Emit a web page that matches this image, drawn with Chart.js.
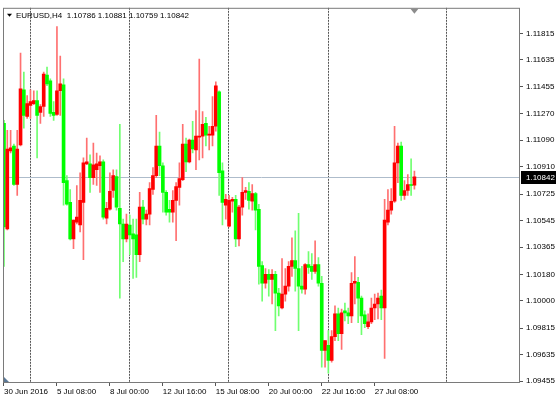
<!DOCTYPE html>
<html>
<head>
<meta charset="utf-8">
<script src="https://cdn.jsdelivr.net/npm/chart.js@4.4.0/dist/chart.umd.min.js"></script>
<style>
  html, body { margin: 0; padding: 0; background: #fff; }
</style>
</head>
<body>
<canvas id="chart" width="558" height="400"></canvas>
<script>
// EURUSD H4 candles, 30 Jun 2016 16:00 .. 29 Jul 2016 08:00 (bar index = position)
const symbol = 'EURUSD,H4';

const opens = [
  1.11205, 1.10488, 1.11018, 1.11051, 1.10790, 1.11058, 1.11433, 1.11252, 1.11326, 1.11339,
  1.11359, 1.11279, 1.11319, 1.11533, 1.11493, 1.11279, 1.11265, 1.11426, 1.11466, 1.10816,
  1.10669, 1.10421, 1.10535, 1.10515, 1.10669, 1.10930, 1.10930, 1.10837, 1.10890, 1.10917,
  1.10944, 1.10562, 1.10622, 1.10749, 1.10843, 1.10629, 1.10522, 1.10421, 1.10515, 1.10455,
  1.10448, 1.10314, 1.10636, 1.10555, 1.10589, 1.10756, 1.10850, 1.11051, 1.10917, 1.10736,
  1.10622, 1.10602, 1.10682, 1.10770, 1.10823, 1.11064, 1.10944, 1.11091, 1.11024, 1.11111,
  1.11118, 1.11205, 1.11125, 1.11125, 1.11185, 1.11419, 1.10883, 1.10649, 1.10508, 1.10676,
  1.10689, 1.10421, 1.10636, 1.10736, 1.10743, 1.10676, 1.10729, 1.10622, 1.10240, 1.10120,
  1.10180, 1.10146, 1.10180, 1.10053, 1.09952, 1.10046, 1.10100, 1.10234, 1.10274, 1.10220,
  1.10100, 1.10079, 1.10247, 1.10234, 1.10200, 1.10247, 1.10120, 1.09664, 1.09698, 1.09597,
  1.09758, 1.09912, 1.09778, 1.09932, 1.09919, 1.09899, 1.10120, 1.10126, 1.10019, 1.09905,
  1.09825, 1.09858, 1.09952, 1.09979, 1.10033, 1.09952, 1.10535, 1.10616, 1.10676, 1.10937,
  1.11051, 1.10716, 1.10749, 1.10790, 1.10786
];
const highs = [
  1.11225, 1.11158, 1.11158, 1.11064, 1.11158, 1.11681, 1.11553, 1.11393, 1.11433, 1.11426,
  1.11426, 1.11332, 1.11553, 1.11587, 1.11507, 1.11352, 1.11862, 1.11661, 1.11507, 1.10850,
  1.10756, 1.10548, 1.10783, 1.10870, 1.10971, 1.11105, 1.10991, 1.11071, 1.11004, 1.10984,
  1.10957, 1.10669, 1.10870, 1.10890, 1.10890, 1.11198, 1.10555, 1.10589, 1.10582, 1.10555,
  1.10555, 1.10736, 1.10682, 1.10616, 1.10803, 1.10904, 1.11259, 1.11145, 1.10937, 1.10749,
  1.10682, 1.10749, 1.10803, 1.10937, 1.11198, 1.11105, 1.11098, 1.11218, 1.11292, 1.11641,
  1.11285, 1.11245, 1.11185, 1.11386, 1.11486, 1.11426, 1.10937, 1.10723, 1.10716, 1.10703,
  1.10716, 1.10649, 1.10837, 1.10770, 1.10803, 1.10790, 1.10736, 1.10656, 1.10267, 1.10220,
  1.10213, 1.10213, 1.10200, 1.10086, 1.10287, 1.10220, 1.10267, 1.10428, 1.10475, 1.10595,
  1.10234, 1.10254, 1.10334, 1.10321, 1.10408, 1.10294, 1.10167, 1.09731, 1.09798, 1.09798,
  1.09966, 1.09952, 1.09945, 1.09986, 1.09952, 1.10193, 1.10301, 1.10160, 1.10033, 1.09932,
  1.09912, 1.10019, 1.10046, 1.10053, 1.10073, 1.10689, 1.10756, 1.10763, 1.11185, 1.11071,
  1.11078, 1.10816, 1.10857, 1.10964, 1.10881
];
const lows = [
  1.10234, 1.10481, 1.11004, 1.10783, 1.10716, 1.11051, 1.11172, 1.11239, 1.11239, 1.11332,
  1.10971, 1.11205, 1.11252, 1.11460, 1.11252, 1.11225, 1.11259, 1.11259, 1.10649, 1.10649,
  1.10414, 1.10354, 1.10522, 1.10468, 1.10280, 1.10924, 1.10736, 1.10790, 1.10783, 1.10736,
  1.10555, 1.10522, 1.10616, 1.10703, 1.10616, 1.10019, 1.10267, 1.10401, 1.10314, 1.10153,
  1.10160, 1.10267, 1.10522, 1.10515, 1.10515, 1.10723, 1.10837, 1.10850, 1.10602, 1.10582,
  1.10535, 1.10535, 1.10408, 1.10649, 1.10816, 1.10877, 1.10937, 1.11004, 1.10890, 1.10957,
  1.10971, 1.11051, 1.11024, 1.11051, 1.11151, 1.10716, 1.10515, 1.10555, 1.10502, 1.10602,
  1.10368, 1.10374, 1.10582, 1.10689, 1.10622, 1.10616, 1.10481, 1.10113, 1.09999, 1.10086,
  1.10033, 1.09979, 1.09798, 1.09899, 1.09945, 1.09999, 1.10066, 1.10167, 1.10066, 1.09798,
  1.10053, 1.10046, 1.10187, 1.10146, 1.10187, 1.10100, 1.09550, 1.09550, 1.09510, 1.09584,
  1.09731, 1.09731, 1.09671, 1.09865, 1.09845, 1.09852, 1.09979, 1.09852, 1.09771, 1.09818,
  1.09811, 1.09845, 1.09872, 1.09878, 1.09872, 1.09610, 1.10515, 1.10589, 1.10669, 1.10803,
  1.10682, 1.10689, 1.10716, 1.10716, 1.10759
];
const closes = [
  1.10502, 1.11031, 1.11038, 1.10790, 1.11031, 1.11440, 1.11259, 1.11339, 1.11352, 1.11359,
  1.11259, 1.11319, 1.11540, 1.11473, 1.11272, 1.11259, 1.11426, 1.11473, 1.10803, 1.10656,
  1.10421, 1.10548, 1.10569, 1.10682, 1.10937, 1.10944, 1.10837, 1.10924, 1.10930, 1.10944,
  1.10569, 1.10629, 1.10743, 1.10850, 1.10636, 1.10522, 1.10421, 1.10522, 1.10448, 1.10421,
  1.10314, 1.10636, 1.10555, 1.10589, 1.10763, 1.10850, 1.11051, 1.10917, 1.10736, 1.10602,
  1.10602, 1.10682, 1.10776, 1.10830, 1.11064, 1.10944, 1.11091, 1.11031, 1.11118, 1.11118,
  1.11198, 1.11125, 1.11131, 1.11185, 1.11460, 1.10870, 1.10669, 1.10689, 1.10682, 1.10689,
  1.10421, 1.10636, 1.10736, 1.10749, 1.10682, 1.10729, 1.10616, 1.10234, 1.10120, 1.10180,
  1.10146, 1.10180, 1.10053, 1.09966, 1.10046, 1.10100, 1.10234, 1.10274, 1.10220, 1.10100,
  1.10079, 1.10247, 1.10227, 1.10200, 1.10247, 1.10120, 1.09664, 1.09731, 1.09597, 1.09758,
  1.09912, 1.09778, 1.09919, 1.09919, 1.09899, 1.10120, 1.10133, 1.10019, 1.09899, 1.09845,
  1.09858, 1.09952, 1.09979, 1.10019, 1.09952, 1.10548, 1.10616, 1.10676, 1.10937, 1.11051,
  1.10716, 1.10749, 1.10790, 1.10783, 1.10842
];

// x axis labels sit on bar indexes
const xTickBars = [0, 16, 32, 48, 64, 80, 96, 112];
const xTickLabels = ['30 Jun 2016', '5 Jul 08:00', '8 Jul 00:00', '12 Jul 16:00',
  '15 Jul 08:00', '20 Jul 00:00', '22 Jul 16:00', '27 Jul 08:00'];
const yTicks = [1.11815, 1.11635, 1.11455, 1.11270, 1.11090, 1.10910, 1.10725,
  1.10545, 1.10365, 1.10180, 1.10000, 1.09815, 1.09635, 1.09455];
// weekly period separators (Monday 00:00), in bar units
const weekStartBars = [7.8, 37.8, 67.8, 97.8, 133.5];

const lastBar = closes.length - 1;
const lastPrice = closes[lastBar];
const isUp = closes.map((c, i) => c >= opens[i]);

const font = 'Liberation Sans, Arial, sans-serif';
Chart.defaults.font.family = font;
Chart.defaults.font.size = 8;
Chart.defaults.color = '#000';

const mtOverlay = {
  id: 'mtOverlay',
  beforeDatasetsDraw(chart) {
    const { ctx, chartArea: a, scales: { x, y } } = chart;
    ctx.save();
    ctx.lineWidth = 1;
    ctx.strokeStyle = '#555';
    ctx.setLineDash([2, 1]);
    weekStartBars.forEach(b => {
      const px = Math.round(x.getPixelForValue(b)) + 0.5;
      ctx.beginPath();
      ctx.moveTo(px, a.top);
      ctx.lineTo(px, a.bottom);
      ctx.stroke();
    });
    ctx.setLineDash([]);
    const py = Math.round(y.getPixelForValue(lastPrice)) + 0.5;
    ctx.strokeStyle = '#aebccb';
    ctx.beginPath();
    ctx.moveTo(a.left, py);
    ctx.lineTo(a.right, py);
    ctx.stroke();
    ctx.restore();
  },
  afterDraw(chart) {
    const { ctx, chartArea: a, scales: { x, y } } = chart;
    ctx.save();
    // frame
    ctx.strokeStyle = '#7a7a7a';
    ctx.lineWidth = 1;
    ctx.strokeRect(a.left + 0.5, a.top + 0.5, a.width - 1, a.height - 1);

    // header
    ctx.fillStyle = '#000';
    ctx.beginPath();
    ctx.moveTo(a.left + 4, a.top + 6);
    ctx.lineTo(a.left + 9, a.top + 6);
    ctx.lineTo(a.left + 6.5, a.top + 9);
    ctx.fill();
    ctx.font = '8px ' + font;
    ctx.textBaseline = 'middle';
    const f = v => v.toFixed(5);
    ctx.fillText(symbol + '  ' + f(opens[lastBar]) + ' ' + f(highs[lastBar]) + ' ' +
      f(lows[lastBar]) + ' ' + f(lastPrice), a.left + 13, a.top + 8);

    // current price tag
    const py = Math.round(y.getPixelForValue(lastPrice));
    ctx.fillStyle = '#000';
    ctx.fillRect(a.right + 1, py - 6, 35, 13);
    ctx.fillStyle = '#fff';
    ctx.textBaseline = 'middle';
    ctx.fillText(f(lastPrice), a.right + 6, py + 0.5);

    // chart shift marker
    const sx = x.getPixelForValue(lastBar);
    ctx.fillStyle = '#8c8c8c';
    ctx.beginPath();
    ctx.moveTo(sx - 4, a.top + 1);
    ctx.lineTo(sx + 4, a.top + 1);
    ctx.lineTo(sx, a.top + 6);
    ctx.fill();

    // corner marker
    ctx.fillStyle = '#5b7896';
    ctx.beginPath();
    ctx.moveTo(a.left + 1, a.bottom - 6);
    ctx.lineTo(a.left + 1, a.bottom - 1);
    ctx.lineTo(a.left + 6, a.bottom - 1);
    ctx.fill();
    ctx.restore();
  }
};

new Chart(document.getElementById('chart').getContext('2d'), {
  type: 'bar',
  data: {
    datasets: [{
      label: 'body',
      data: opens.map((o, i) => ({ x: i, y: [o, closes[i]] })),
      backgroundColor: isUp.map(u => u ? '#ff0000' : '#00ff00'),
      barThickness: 3,
      minBarLength: 1,
      grouped: false
    }, {
      label: 'wick',
      data: highs.map((h, i) => ({ x: i, y: [lows[i], h] })),
      backgroundColor: isUp.map(u => u ? '#ff7070' : '#70ff70'),
      barThickness: 1,
      grouped: false
    }]
  },
  options: {
    responsive: false,
    animation: false,
    layout: { padding: { left: 3, top: 3, right: 0, bottom: 0 } },
    plugins: { legend: { display: false }, tooltip: { enabled: false } },
    scales: {
      x: {
        type: 'linear',
        offset: false,
        min: -0.3,
        max: 155.9,
        afterBuildTicks: s => { s.ticks = xTickBars.map(v => ({ value: v })); },
        afterFit: s => { s.height = 17; },
        ticks: {
          autoSkip: false,
          maxRotation: 0,
          align: 'start',
          padding: 1,
          callback: v => xTickLabels[xTickBars.indexOf(v)]
        },
        grid: { drawOnChartArea: false, tickLength: 3, color: '#555', offset: false },
        border: { display: false }
      },
      y: {
        position: 'right',
        min: 1.09443,
        max: 1.11989,
        afterBuildTicks: s => { s.ticks = yTicks.map(v => ({ value: v })); },
        afterFit: s => { s.width = 38; },
        ticks: {
          autoSkip: false,
          padding: 3,
          callback: v => v.toFixed(5)
        },
        grid: { drawOnChartArea: false, tickLength: 3, color: '#555' },
        border: { display: false }
      }
    }
  },
  plugins: [mtOverlay]
});
</script>
</body>
</html>
